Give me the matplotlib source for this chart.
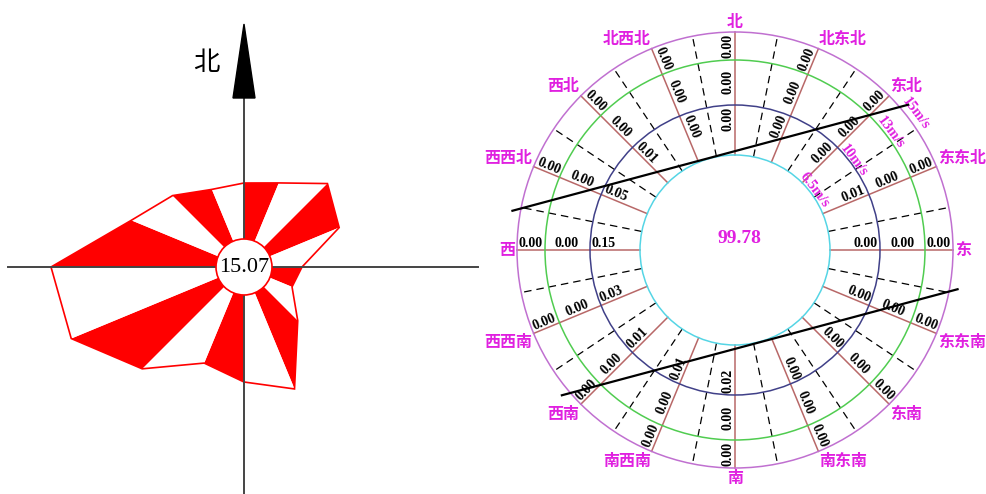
import numpy as np
import matplotlib
matplotlib.use("Agg")
import matplotlib.pyplot as plt
from matplotlib.patches import Circle, Polygon

plt.rcParams['font.family'] = ['Noto Sans CJK SC', 'DejaVu Sans']

# 16 个方位, 从北开始顺时针
directions = ['北', '北东北', '东北', '东东北', '东', '东东南', '东南', '南东南',
              '南', '南西南', '西南', '西西南', '西', '西西北', '西北', '北西北']

# 左图: 风向玫瑰各方位长度
rose_len = [84, 91, 118, 103, 58, 52, 76, 132, 115, 104, 144, 187, 193, 122, 101, 84]
calm_left = '15.07'

# 右图: 风速分级与各方位频率 (%)
speed_rings = ['6.5m/s', '10m/s', '13m/s', '15m/s']
freq_low = [0.00, 0.00, 0.00, 0.01, 0.00, 0.00, 0.00, 0.00,
            0.02, 0.01, 0.01, 0.03, 0.15, 0.05, 0.01, 0.00]
freq_mid = [0.00, 0.00, 0.00, 0.00, 0.00, 0.00, 0.00, 0.00,
            0.00, 0.00, 0.00, 0.00, 0.00, 0.00, 0.00, 0.00]
freq_high = [0.00, 0.00, 0.00, 0.00, 0.00, 0.00, 0.00, 0.00,
             0.00, 0.00, 0.00, 0.00, 0.00, 0.00, 0.00, 0.00]
calm_right = '99.78'

MAGENTA = '#E020E0'


def pt(c, r, bearing):
    # 方位角 -> 像素坐标 (y 向下)
    b = np.radians(bearing)
    return c[0] + r * np.sin(b), c[1] - r * np.cos(b)


fig = plt.figure(figsize=(9.87, 4.94), dpi=100)
ax = fig.add_axes([0, 0, 1, 1])
ax.set_xlim(0, 987)
ax.set_ylim(494, 0)
ax.set_aspect('equal')
ax.axis('off')

# ---------- 左图 ----------
c1 = (244, 267)
bear = np.arange(16) * 22.5
verts = [pt(c1, r, b) for r, b in zip(rose_len, bear)]
for k in range(16):
    tri = [c1, verts[k], verts[(k + 1) % 16]]
    ax.add_patch(Polygon(tri, closed=True, facecolor='#FF0000' if k % 2 == 0 else 'white',
                         edgecolor='none', zorder=2))
ax.add_patch(Polygon(verts, closed=True, fill=False, edgecolor='#FF0000', lw=1.2, zorder=3))

ax.plot([8, 478], [c1[1], c1[1]], color='#444444', lw=1.4, zorder=4)
ax.plot([c1[0], c1[0]], [95, 494], color='#444444', lw=1.4, zorder=4)
ax.add_patch(Polygon([(c1[0], 24), (c1[0] - 11, 98), (c1[0] + 11, 98)], closed=True,
                     facecolor='black', edgecolor='black', zorder=4))
ax.text(206, 62, '北', fontsize=19, ha='center', va='center', color='black')

ax.add_patch(Circle(c1, 28, facecolor='white', edgecolor='#FF0000', lw=1.2, zorder=5))
ax.text(c1[0], c1[1] + 1, calm_left, fontsize=16, family='Liberation Serif', ha='center',
        va='center', zorder=6)

# ---------- 右图 ----------
c2 = (735, 250)
ring_r = [95, 145, 190, 218]
ring_col = ['#55D5E5', '#404088', '#50CC50', '#C070D0']
for r, col in zip(ring_r, ring_col):
    ax.add_patch(Circle(c2, r, fill=False, edgecolor=col, lw=1.1, zorder=2))

for k in range(16):
    b = k * 22.5
    x0, y0 = pt(c2, ring_r[0], b)
    x1, y1 = pt(c2, ring_r[-1], b)
    ax.plot([x0, x1], [y0, y1], color='#B86868', lw=1.1, zorder=1)
    b2 = b + 11.25
    x0, y0 = pt(c2, ring_r[0], b2)
    x1, y1 = pt(c2, ring_r[-1], b2)
    ax.plot([x0, x1], [y0, y1], color='black', lw=0.9, dashes=(6, 4), zorder=1)

# 各方位频率数值
val_r = [131, 168, 204]
for k in range(16):
    b = k * 22.5
    rot = 90 - b
    if rot <= -90:
        rot += 180
    elif rot > 90:
        rot -= 180
    for r, vals in zip(val_r, [freq_low, freq_mid, freq_high]):
        x, y = pt(c2, r, b)
        ax.text(x, y, '%.2f' % vals[k], fontsize=10, family='Liberation Serif',
                weight='bold', rotation=rot, rotation_mode='anchor',
                ha='center', va='bottom', zorder=6)

# 方位名称
for k, name in enumerate(directions):
    b = k * 22.5
    x, y = pt(c2, ring_r[-1] + 2, b)
    if 0 < b < 180:
        ha = 'left'
    elif b > 180:
        ha = 'right'
    else:
        ha = 'center'
    if b < 90 or b > 270:
        va = 'bottom'
    elif 90 < b < 270:
        va = 'top'
    else:
        va = 'center'
    ax.text(x, y, name, fontsize=11.5, weight='bold', color=MAGENTA, ha=ha, va=va, zorder=6)

# 风速分级标注
for r, lab in zip([100, 149, 195, 226], speed_rings):
    x, y = pt(c2, r, 53)
    ax.text(x, y, lab, fontsize=10.5, family='Liberation Serif', weight='bold',
            color=MAGENTA, rotation=-53, ha='center', va='center',
            rotation_mode='anchor', zorder=6)

# 两条斜线
for a0, a1 in [(170, 40), (-10, 220)]:
    p0 = (c2[0] + 226 * np.cos(np.radians(a0)), c2[1] - 226 * np.sin(np.radians(a0)))
    p1 = (c2[0] + 226 * np.cos(np.radians(a1)), c2[1] - 226 * np.sin(np.radians(a1)))
    ax.plot([p0[0], p1[0]], [p0[1], p1[1]], color='black', lw=1.6, zorder=7)

ax.text(739, 238, calm_right, fontsize=14, family='Liberation Serif', weight='bold',
        color=MAGENTA, ha='center', va='center', zorder=6)

plt.savefig('out.png', dpi=100)
